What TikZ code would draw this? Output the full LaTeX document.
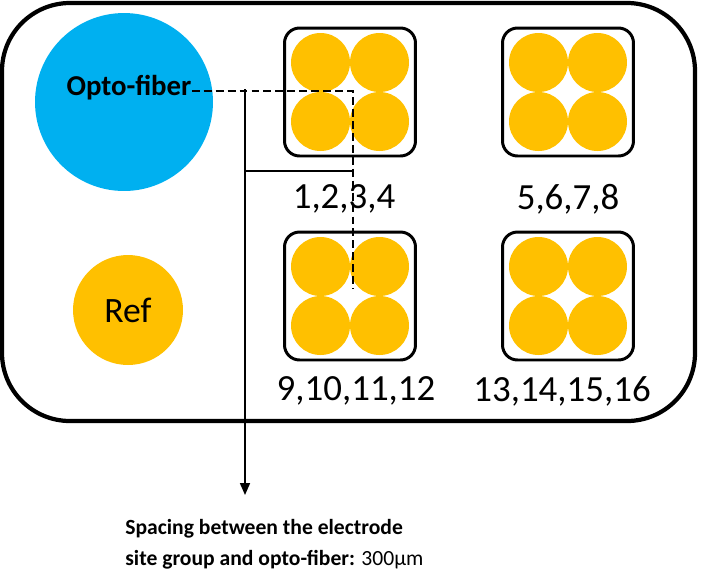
\documentclass[tikz,border=0pt]{standalone}
\usepackage{fontspec}
\setmainfont{Carlito}
\usepackage{tikz}
\usetikzlibrary{arrows.meta, positioning}

\definecolor{fiberblue}{HTML}{00B0F0}
\definecolor{siteorange}{HTML}{FFC000}

\tikzset{
  site/.style={circle, fill=siteorange, minimum size=1.18cm, inner sep=0pt},
  group/.style={draw, line width=1.7pt, rounded corners=0.3cm, minimum width=2.62cm, minimum height=2.56cm, inner sep=0pt},
  grouplabel/.style={font=\fontsize{21}{25}\selectfont},
  spacing/.style={line width=0.85pt},
}

\begin{document}
\begin{tikzpicture}[x=0.02cm, y=-0.02cm]
\useasboundingbox (0,0) rectangle (707,583);

% probe outline
\draw[line width=2.4pt, rounded corners=1.36cm] (2,3) rectangle (695,421);

% nodes
\node[circle, fill=fiberblue, minimum size=3.56cm, inner sep=0pt] (fiber) at (124,102) {};
\node[inner sep=0pt, font=\bfseries\fontsize{16.4}{19}\selectfont] (fibertext) at (129,88) {Opto-fiber};
\node[circle, fill=siteorange, minimum size=2.2cm, inner sep=0pt, font=\fontsize{20.3}{24}\selectfont] (ref) at (128,310) {Ref};

\foreach \g/\x/\y in {g1/350/92, g2/568/92, g3/350/296, g4/568/296}{
  \foreach \i/\dx/\dy in {a/-29.5/-29.5, b/29.5/-29.5, c/-29.5/29.5, d/29.5/29.5}
    \node[site] (\g\i) at (\x+\dx,\y+\dy) {};
  \node[group] (\g) at (\x,\y) {};
}

\node[grouplabel, below=0.42cm of g1, xshift=-0.12cm] (l1) {1,2,3,4};
\node[grouplabel, below=0.42cm of g2] (l2) {5,6,7,8};
\node[grouplabel, below=0.18cm of g3, xshift=0.12cm] (l3) {9,10,11,12};
\node[grouplabel, below=0.18cm of g4, xshift=-0.12cm] (l4) {13,14,15,16};

\node[anchor=north west, align=left, inner sep=0pt, font=\fontsize{12.3}{17.6}\selectfont] (note) at (125,519)
  {\textbf{Spacing between the electrode}\\\textbf{site group and opto-fiber:} 300μm};

% spacing lines
\coordinate (c1) at (353,91);
\coordinate (c3) at (353,289);
\coordinate (top) at (245,89);
\coordinate (tip) at (245,495);
\coordinate (mid) at (245,171);
\coordinate (midend) at (353,171);

\draw[spacing, dash pattern=on 4.5pt off 2.3pt] (fibertext.east |- c1) -- (c1) -- (c3);
\draw[spacing, -{Triangle[length=6.8pt, width=5.7pt]}] (top) -- (tip);
\draw[spacing] (mid) -- (midend);

\end{tikzpicture}
\end{document}
